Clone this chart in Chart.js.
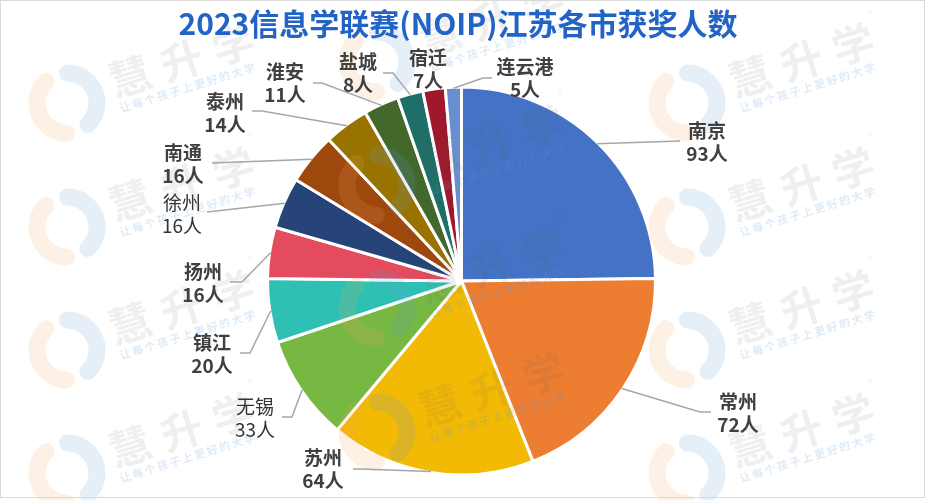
<!DOCTYPE html>
<html>
<head>
<meta charset="utf-8">
<script src="https://cdn.jsdelivr.net/npm/chart.js"></script>
<style>
  body { margin: 0; background: #fff; }
  #wrap { width: 925px; height: 500px; position: relative; }
</style>
</head>
<body>
<div id="wrap"><canvas id="myChart"></canvas></div>
<script>
// data
const cities = ['南京', '常州', '苏州', '无锡', '镇江', '扬州', '徐州', '南通', '泰州', '淮安', '盐城', '宿迁', '连云港'];
const counts = [93, 72, 64, 33, 20, 16, 16, 16, 14, 11, 8, 7, 5];
const unit = '人';
const chartTitle = '2023信息学联赛(NOIP)江苏各市获奖人数';

const sliceColors = ['#4472C4', '#ED7D31', '#F2B905', '#77B843', '#2EC1B3', '#E44B5F',
  '#264478', '#9E480E', '#997300', '#43682B', '#1D6F68', '#A0182B', '#698ED0'];

// label layout: [text x, text y, elbow x, elbow y, end x] (null elbow = no leader line)
const labelLayout = [
  [707, 131, 680, 141, 680],
  [738, 402, 700, 412, 711],
  [323, 458, 360, 469, 353],
  [255, 407, 292, 417, 282],
  [212, 343, 250, 353, 240],
  [203, 272, 242, 282, 230],
  [182, 203, 207, 212, 207],
  [183, 153, 212, 163, 212],
  [225, 102, 262, 111, 252],
  [285, 72, 322, 83, 313],
  [358, 62, 393, 73, 383],
  [428, 58, null, null, null],
  [525, 67, 483, 78, 492]
];
const lightLabels = [3, 6]; // 无锡, 徐州 drawn in regular weight

const FONT = "'Noto Sans CJK SC', 'Noto Sans', sans-serif";

function drawMark(ctx, lx, ly) {
  ctx.save();
  ctx.translate(lx, ly);
  ctx.rotate(-0.3);
  // logo
  ctx.globalAlpha = 0.16;
  ctx.lineCap = 'round';
  ctx.lineWidth = 17;
  ctx.strokeStyle = '#F4A460';
  ctx.beginPath();
  ctx.arc(0, 0, 30, Math.PI * 0.6, Math.PI * 1.35);
  ctx.stroke();
  ctx.strokeStyle = '#5B9BD5';
  ctx.beginPath();
  ctx.arc(0, 0, 30, -Math.PI * 0.4, Math.PI * 0.35);
  ctx.stroke();
  // text
  ctx.globalAlpha = 0.1;
  ctx.fillStyle = '#606060';
  ctx.font = 'bold 42px ' + FONT;
  ctx.textAlign = 'center';
  ctx.textBaseline = 'middle';
  ctx.fillText('慧', 68, -7);
  ctx.fillText('升', 122, -7);
  ctx.fillText('学', 176, -7);
  ctx.font = '9px ' + FONT;
  ctx.fillText('®', 202, -32);
  ctx.globalAlpha = 0.2;
  ctx.fillStyle = '#5B9BD5';
  ctx.font = 'bold 11px ' + FONT;
  ctx.textAlign = 'left';
  ctx.letterSpacing = '2px';
  ctx.fillText('让每个孩子上更好的大学', 49, 21);
  ctx.restore();
}

const decorations = {
  id: 'decorations',
  afterDraw(chart) {
    const ctx = chart.ctx;
    const meta = chart.getDatasetMeta(0);

    // watermarks
    const colsLR = [67, 687];
    const rowsLR = [103, 227, 350, 473];
    colsLR.forEach(x => rowsLR.forEach(y => drawMark(ctx, x, y)));
    [62, 185, 308, 432].forEach(y => drawMark(ctx, 377, y));

    // leader lines and labels
    ctx.save();
    meta.data.forEach((arc, i) => {
      const p = arc.getProps(['x', 'y', 'startAngle', 'endAngle', 'outerRadius'], true);
      const mid = (p.startAngle + p.endAngle) / 2;
      const sx = p.x + Math.cos(mid) * (p.outerRadius - 1);
      const sy = p.y + Math.sin(mid) * (p.outerRadius - 1);
      const L = labelLayout[i];
      if (L[2] !== null) {
        ctx.strokeStyle = '#A6A6A6';
        ctx.lineWidth = 1.5;
        ctx.beginPath();
        ctx.moveTo(sx, sy);
        ctx.lineTo(L[2], L[3]);
        ctx.lineTo(L[4], L[3]);
        ctx.stroke();
      }
      const light = lightLabels.includes(i);
      ctx.fillStyle = light ? '#333333' : '#404040';
      ctx.textAlign = 'center';
      ctx.textBaseline = 'middle';
      ctx.font = (light ? '' : 'bold ') + '19px ' + FONT;
      ctx.fillText(cities[i], L[0], L[1]);
      ctx.fillText(counts[i] + unit, L[0], L[1] + 23);
    });
    ctx.restore();

    // title
    ctx.save();
    ctx.fillStyle = '#2264C6';
    ctx.font = 'bold 30px ' + FONT;
    ctx.textAlign = 'center';
    ctx.textBaseline = 'middle';
    ctx.fillText(chartTitle, 458, 24);
    ctx.restore();

    // frame
    ctx.save();
    ctx.strokeStyle = '#D9D9D9';
    ctx.lineWidth = 1;
    ctx.strokeRect(0.5, 0.5, chart.width - 1, chart.height - 3);
    ctx.restore();
  }
};

const ctx = document.getElementById('myChart').getContext('2d');
const chart = new Chart(ctx, {
  type: 'pie',
  data: {
    labels: cities,
    datasets: [{
      data: counts,
      backgroundColor: sliceColors,
      borderColor: '#FFFFFF',
      borderWidth: 3,
      radius: 194
    }]
  },
  options: {
    responsive: true,
    maintainAspectRatio: false,
    animation: false,
    events: [],
    layout: {
      padding: { top: 88, bottom: 26, left: 268, right: 270 }
    },
    plugins: {
      legend: { display: false },
      title: { display: false },
      tooltip: { enabled: false }
    }
  },
  plugins: [decorations]
});
</script>
</body>
</html>
